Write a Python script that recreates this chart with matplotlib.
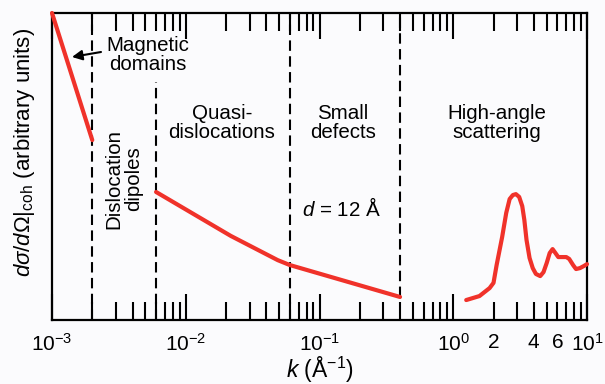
"""Coherent scattering cross-section vs. wavevector, with defect regimes."""

import matplotlib
matplotlib.use("Agg")
import matplotlib.pyplot as plt

# ---------------------------------------------------------------------------
# Data (k in 1/Å, intensity in arbitrary units 0..1)
# ---------------------------------------------------------------------------
BOUNDARY_K = [2e-3, 6e-3, 6e-2, 4e-1]
BOUNDARY_LO = [0.0, 0.0, 0.0, 0.075]
BOUNDARY_HI = [1.0, 0.775, 1.0, 1.0]

MAG_K = [1e-3, 2e-3]
MAG_I = [1.0, 0.586]

DEFECT_K = [6e-3, 0.0217, 0.0487, 0.06, 0.4]
DEFECT_I = [0.417, 0.274, 0.195, 0.179, 0.075]

HIGH_K = [1.25, 1.57, 1.87, 2.0, 2.11, 2.32, 2.49, 2.64, 2.79, 2.94,
          3.11, 3.28, 3.40, 3.53, 3.72, 3.93, 4.15, 4.47, 4.73, 5.0,
          5.26, 5.53, 5.81, 6.10, 6.53, 7.0, 7.36, 7.87, 8.28, 8.85,
          9.49, 10.0]
HIGH_I = [0.065, 0.078, 0.104, 0.121, 0.179, 0.270, 0.349, 0.394, 0.407, 0.410,
          0.401, 0.371, 0.326, 0.261, 0.202, 0.169, 0.150, 0.143, 0.156, 0.186,
          0.218, 0.231, 0.218, 0.205, 0.205, 0.205, 0.199, 0.179, 0.166, 0.169,
          0.176, 0.182]

MAJOR_TICKS = [1e-3, 1e-2, 1e-1, 1e0, 1e1]
MAJOR_LABELS = ["$10^{-3}$", "$10^{-2}$", "$10^{-1}$", "$10^{0}$", "$10^{1}$"]
LABELLED_MINOR = {2: "2", 4: "4", 6: "6"}

RED = "#f0322a"
BG = "#fbfbfd"

plt.rcParams["font.family"] = ["Liberation Sans", "DejaVu Sans"]
plt.rcParams["mathtext.fontset"] = "custom"
plt.rcParams["mathtext.rm"] = "Liberation Sans"
plt.rcParams["mathtext.it"] = "Liberation Sans:italic"
plt.rcParams["mathtext.bf"] = "Liberation Sans:bold"

fig = plt.figure(figsize=(6.05, 3.84), dpi=100)
fig.patch.set_facecolor(BG)
ax = fig.add_axes([52 / 605, 64 / 384, 535 / 605, 307 / 384])
ax.set_facecolor(BG)
ax.set_xscale("log")
ax.set_xlim(1e-3, 1e1)
ax.set_ylim(0, 1)

# regime boundaries
for k, lo, hi in zip(BOUNDARY_K, BOUNDARY_LO, BOUNDARY_HI):
    ax.plot([k, k], [lo, hi], color="black", lw=1.5,
            linestyle=(0, (5, 2.6)), zorder=2)

# curves
for xs, ys in [(MAG_K, MAG_I), (DEFECT_K, DEFECT_I), (HIGH_K, HIGH_I)]:
    ax.plot(xs, ys, color=RED, lw=3.0, solid_joinstyle="round",
            solid_capstyle="round", zorder=3, clip_on=False)

# ticks: full decades inward on top and bottom, only 2/4/6 labelled
minor = []
minor_labels = []
for dec in MAJOR_TICKS[:-1]:
    for m in range(2, 10):
        minor.append(m * dec)
        minor_labels.append(LABELLED_MINOR.get(m, "") if dec == 1e0 else "")
ax.set_xticks(MAJOR_TICKS, MAJOR_LABELS)
ax.set_xticks(minor, minor_labels, minor=True)
ax.set_yticks([])
ax.tick_params(axis="x", which="both", direction="in", top=True, bottom=True,
               width=1.5, color="black", labelsize=15, pad=9)
ax.tick_params(axis="x", which="major", length=19)
ax.tick_params(axis="x", which="minor", length=13)
for sp in ax.spines.values():
    sp.set_linewidth(1.6)

# region labels
txt = dict(transform=ax.transAxes, ha="center", va="center",
           fontsize=14.8, linespacing=1.05)
ax.text((148 - 52) / 535, (320 - 55) / 307, "Magnetic\ndomains", **txt)
ax.text((222 - 52) / 535, (320 - 123) / 307, "Quasi-\ndislocations", **txt)
ax.text((343 - 52) / 535, (320 - 123) / 307, "Small\ndefects", **txt)
ax.text((497 - 52) / 535, (320 - 123) / 307, "High-angle\nscattering", **txt)
ax.text((124 - 52) / 535, (320 - 179) / 307, "Dislocation\ndipoles",
        rotation=90, **txt)
ax.text((341 - 52) / 535, (320 - 208) / 307, "$d$ = 12 Å", **txt)

ax.annotate("", xy=((72 - 52) / 535, (320 - 57) / 307),
            xytext=((101 - 52) / 535, (320 - 52) / 307),
            xycoords="axes fraction", textcoords="axes fraction",
            arrowprops=dict(arrowstyle="-|>", color="black", lw=1.5,
                            mutation_scale=15, shrinkA=0, shrinkB=0))

fig.text(25 / 605, 1 - 152 / 384,
         r"$d\sigma/d\mathit{\Omega}|_{\mathrm{coh}}$ (arbitrary units)",
         rotation=90, ha="center", va="center", fontsize=16)
fig.text(320 / 605, 1 - 370 / 384, r"$k$ (Å$^{-1}$)",
         ha="center", va="center", fontsize=16.5)

fig.savefig("out.png", dpi=100, facecolor=BG)
